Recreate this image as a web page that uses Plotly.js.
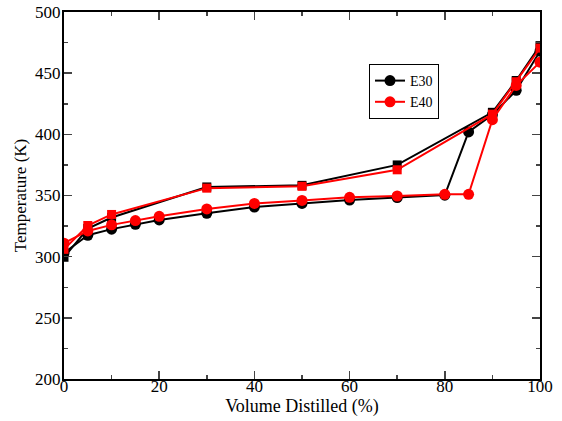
<!DOCTYPE html>
<html><head><meta charset="utf-8">
<script src="https://cdn.plot.ly/plotly-3.0.1.min.js"></script>
<style>body{margin:0;padding:0;background:#fff}#chart{width:562px;height:421px}</style>
</head><body><div id="chart"></div>
<script>
// E30 circle series
const e30cX = [0, 5, 10, 15, 20, 30, 40, 50, 60, 70, 80, 85, 90, 95, 100];
const e30cY = [303, 317.5, 322.5, 326.5, 330, 335.5, 340.5, 343.5, 346.3, 348.3, 350.3, 402, 416, 436, 468];
// E30 square series
const e30sX = [0, 5, 10, 30, 50, 70, 90, 95, 100];
const e30sY = [299.5, 323, 332, 357, 358.3, 375, 418, 444, 472.5];
// E40 circle series
const e40cX = [0, 5, 10, 15, 20, 30, 40, 50, 60, 70, 80, 85, 90, 95, 100];
const e40cY = [311, 321, 326, 329.5, 333, 339, 343.5, 346, 348.5, 349.6, 351, 351, 412, 440, 459];
// E40 square series
const e40sX = [0, 5, 10, 30, 50, 70, 90, 95, 100];
const e40sY = [306, 325.5, 334.5, 356, 357.5, 371, 416.5, 443, 470.5];

const names = ["E30", "E40"];
const black = "#000000", red = "#ff0000";

const traces = [
  {x: e30sX, y: e30sY, mode: "lines+markers", showlegend: false,
   line: {color: black, width: 2}, marker: {symbol: "square", size: 9, color: black}},
  {x: e30cX, y: e30cY, mode: "lines+markers", name: names[0],
   line: {color: black, width: 2}, marker: {symbol: "circle", size: 11, color: black}},
  {x: e40sX, y: e40sY, mode: "lines+markers", showlegend: false,
   line: {color: red, width: 2}, marker: {symbol: "square", size: 9, color: red}},
  {x: e40cX, y: e40cY, mode: "lines+markers", name: names[1],
   line: {color: red, width: 2}, marker: {symbol: "circle", size: 11, color: red}}
];

const fam = '"Liberation Serif", "Times New Roman", serif';
const layout = {
  width: 562, height: 421,
  margin: {l: 64, r: 22, t: 12, b: 42},
  paper_bgcolor: "#fff", plot_bgcolor: "#fff",
  font: {family: fam, color: "#000"},
  showlegend: true,
  legend: {xref: "paper", yref: "paper", bordercolor: "#000", borderwidth: 1,
           bgcolor: "#fff", font: {family: fam, size: 14, color: "#000"},
           itemwidth: 30, tracegroupgap: 0, xanchor: "left", yanchor: "top"},
  xaxis: {range: [0, 100], dtick: 20, ticks: "inside", ticklen: 8, tickwidth: 1.5,
          showline: true, linecolor: "#000", linewidth: 2, mirror: "allticks",
          showgrid: false, zeroline: false, automargin: false, ticklabelstandoff: -9,
          minor: {dtick: 10, ticks: "inside", ticklen: 4, tickwidth: 1.5, showgrid: false},
          tickfont: {family: fam, size: 17},
          title: {text: "Volume Distilled (%)", font: {family: fam, size: 18}, standoff: 0}},
  yaxis: {range: [200, 500], dtick: 50, ticks: "inside", ticklen: 8, tickwidth: 1.5,
          showline: true, linecolor: "#000", linewidth: 2, mirror: "allticks",
          showgrid: false, zeroline: false, automargin: false, ticklabelstandoff: -2,
          minor: {dtick: 25, ticks: "inside", ticklen: 4, tickwidth: 1.5, showgrid: false},
          tickfont: {family: fam, size: 17},
          title: {text: "Temperature (K)", font: {family: fam, size: 17}, standoff: 4}}
};
layout.legend.x = (369 - 64) / 476;
layout.legend.y = 1 - (64 - 12) / 367;

Plotly.newPlot("chart", traces, layout, {displayModeBar: false, staticPlot: true});
</script>
</body></html>
